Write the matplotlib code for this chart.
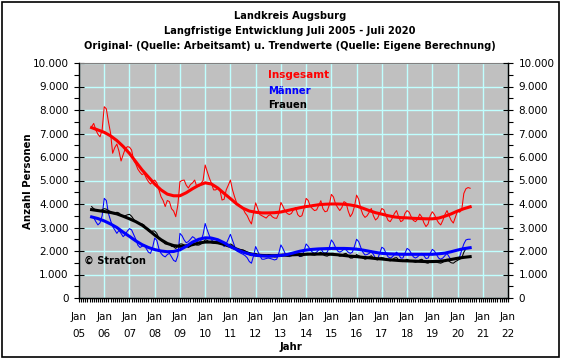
import matplotlib
matplotlib.use("Agg")
import matplotlib.pyplot as plt
import matplotlib.patches as mpatches
import numpy as np
import pandas as pd
from matplotlib.ticker import FixedLocator, MultipleLocator, FuncFormatter

plt.rcParams['font.family'] = ['DejaVu Sans']

# ---------------- data ----------------
# monthly original values, Jul 2005 .. Jul 2020
insg_orig = [
    7290, 7430, 7150, 6970, 6860, 7150,
    8140, 8050, 7500, 7020, 6160, 6400, 6550, 6250, 5830, 6100, 6350, 6440,
    6420, 6300, 5850, 5700, 5480, 5350, 5250, 5300, 5100, 4950, 4850, 4950,
    5020, 4900, 4600, 4310, 4150, 3890, 4150, 4100, 3800, 3700, 3460, 3950,
    4950, 5000, 5020, 4800, 4680, 4830, 4900, 5020, 4740, 4750, 4880, 5000,
    5660, 5370, 5100, 4880, 4600, 4600, 4680, 4600, 4170, 4200, 4600, 4800,
    5020, 4600, 4300, 4040, 3950, 3900, 3800, 3620, 3500, 3300, 3150, 3620,
    4050, 3800, 3550, 3500, 3450, 3400, 3500, 3550, 3450, 3400, 3390, 3600,
    4070, 3900, 3700, 3600, 3550, 3600, 3750, 3850, 3550, 3460, 3500, 3800,
    4240, 4150, 3900, 3800, 3720, 3750, 3950, 4140, 3800, 3670, 3700, 3950,
    4410, 4300, 4000, 3850, 3720, 3850, 4100, 4050, 3700, 3460, 3600, 3900,
    4380, 4200, 3800, 3550, 3430, 3500, 3650, 3810, 3500, 3320, 3400, 3600,
    3810, 3750, 3500, 3300, 3250, 3400, 3600, 3720, 3450, 3250, 3300, 3600,
    3720, 3650, 3450, 3300, 3250, 3350, 3570, 3450, 3200, 3040, 3150, 3500,
    3670, 3550, 3350, 3200, 3110, 3300, 3550, 3720, 3500, 3300, 3190, 3450,
    3700, 3650, 3750, 4450, 4650, 4700, 4670,
]
maenner_orig = [
    3460, 3420, 3250, 3110, 3200, 3500,
    4240, 4150, 3600, 3300, 3040, 2900, 2750, 2880, 2750, 2610, 2700, 2850,
    2950, 2900, 2700, 2500, 2250, 2150, 2200, 2250, 2100, 1950, 1900, 2150,
    2550, 2450, 2100, 1900, 1800, 1750, 1850, 1900, 1750, 1600, 1550, 1800,
    2750, 2650, 2470, 2350, 2400, 2500, 2610, 2550, 2420, 2350, 2450, 2700,
    3170, 2890, 2650, 2470, 2400, 2380, 2450, 2400, 2330, 2190, 2300, 2500,
    2710, 2450, 2200, 2000, 1950, 1900, 1860, 1800, 1710, 1550, 1480, 1800,
    2190, 2000, 1800, 1650, 1650, 1680, 1700, 1680, 1650, 1620, 1650, 1900,
    2260, 2100, 1900, 1800, 1760, 1800, 1900, 1950, 1850, 1760, 1800, 2000,
    2300, 2200, 2050, 1950, 1900, 1950, 2050, 2100, 1950, 1900, 1950, 2150,
    2470, 2350, 2150, 2000, 1950, 2000, 2080, 2050, 1950, 1900, 1950, 2200,
    2500, 2400, 2150, 1950, 1830, 1850, 1900, 2000, 1850, 1700, 1650, 1900,
    2160, 2100, 1900, 1750, 1700, 1750, 1850, 1950, 1850, 1700, 1700, 1900,
    2110, 2050, 1900, 1750, 1700, 1750, 1850, 1900, 1800, 1680, 1700, 1900,
    2070, 2000, 1850, 1700, 1650, 1700, 1800, 1900, 1750, 1620, 1650, 1690,
    1700, 1750, 2040, 2300, 2470, 2500, 2500,
]
frauen_orig = [
    3890, 3800, 3750, 3700, 3680, 3760,
    3800, 3780, 3720, 3680, 3600, 3580, 3650, 3620, 3520, 3460, 3500, 3540,
    3560, 3480, 3350, 3250, 3200, 3150, 3150, 3100, 2950, 2850, 2800, 2850,
    2850, 2750, 2550, 2450, 2380, 2300, 2300, 2300, 2200, 2180, 2110, 2200,
    2300, 2300, 2250, 2200, 2150, 2200, 2300, 2320, 2250, 2250, 2300, 2350,
    2480, 2450, 2380, 2350, 2330, 2320, 2400, 2350, 2300, 2250, 2230, 2250,
    2300, 2250, 2150, 2050, 2050, 2050, 2050, 2000, 1950, 1850, 1800, 1850,
    1900, 1850, 1800, 1780, 1770, 1780, 1850, 1830, 1780, 1750, 1750, 1800,
    1850, 1850, 1800, 1780, 1800, 1800, 1880, 1900, 1820, 1780, 1780, 1820,
    1900, 1900, 1850, 1830, 1820, 1850, 1900, 1950, 1850, 1800, 1780, 1830,
    1900, 1900, 1850, 1820, 1780, 1800, 1880, 1900, 1800, 1700, 1700, 1750,
    1850, 1800, 1750, 1700, 1650, 1680, 1750, 1800, 1700, 1640, 1620, 1700,
    1720, 1700, 1650, 1600, 1580, 1620, 1700, 1720, 1620, 1560, 1550, 1600,
    1650, 1600, 1570, 1550, 1520, 1550, 1620, 1650, 1580, 1500, 1480, 1550,
    1600, 1580, 1520, 1500, 1480, 1520, 1600, 1650, 1560, 1500, 1480, 1550,
    1600, 1650, 1700, 1950, 2100, 2150, 2150,
]

# quarterly trend values, Jul 2005 .. Jul 2020
insg_trend = [
    7250, 7150,
    7050, 6900, 6700, 6450,
    6150, 5800, 5450, 5150,
    4850, 4600, 4420, 4350,
    4350, 4480, 4650, 4800,
    4900, 4850, 4680, 4450,
    4230, 4000, 3820, 3700,
    3650, 3620, 3620, 3630,
    3660, 3720, 3780, 3840,
    3890, 3930, 3970, 3990,
    4000, 4000, 3990, 3960,
    3910, 3820, 3720, 3630,
    3570, 3500, 3450, 3420,
    3410, 3390, 3380, 3370,
    3370, 3400, 3480, 3580,
    3700, 3800, 3880,
]
maenner_trend = [
    3450, 3380,
    3280, 3150, 3000, 2800,
    2620, 2430, 2270, 2150,
    2060, 2000, 1970, 1980,
    2050, 2200, 2380, 2500,
    2560, 2550, 2480, 2350,
    2190, 2060, 1950, 1870,
    1820, 1790, 1780, 1790,
    1810, 1850, 1920, 1990,
    2040, 2070, 2090, 2100,
    2110, 2110, 2110, 2100,
    2080, 2040, 1990, 1940,
    1900, 1880, 1870, 1860,
    1860, 1860, 1860, 1860,
    1860, 1880, 1910, 1970,
    2040, 2100, 2140,
]
frauen_trend = [
    3760, 3720,
    3680, 3640, 3580, 3480,
    3370, 3250, 3100, 2900,
    2680, 2480, 2320, 2230,
    2200, 2220, 2270, 2340,
    2380, 2380, 2350, 2280,
    2190, 2080, 1980, 1890,
    1830, 1810, 1800, 1800,
    1820, 1830, 1840, 1850,
    1860, 1870, 1870, 1870,
    1860, 1840, 1810, 1780,
    1760, 1730, 1710, 1680,
    1660, 1630, 1610, 1590,
    1580, 1570, 1560, 1550,
    1550, 1560, 1590, 1640,
    1690, 1730, 1760,
]

years = list(range(2005, 2023))
tick_labels = ["Jan\n%02d" % (y % 100) for y in years]

titles = ["Landkreis Augsburg",
          "Langfristige Entwicklung Juli 2005 - Juli 2020",
          "Original- (Quelle: Arbeitsamt) u. Trendwerte (Quelle: Eigene Berechnung)"]

# ---------------- dates ----------------
def dec_year(idx):
    return idx.year + (idx.month - 1) / 12.0

x_month = dec_year(pd.date_range("2005-07-01", "2020-07-01", freq="MS"))
x_quart = dec_year(pd.date_range("2005-07-01", "2020-07-01", freq="QS-JAN"))

# ---------------- figure ----------------
W, H = 563, 359
fig = plt.figure(figsize=(W / 100, H / 100), dpi=100, facecolor="white")
fig.patches.append(mpatches.Rectangle((1.5 / W, 2.0 / H), 557.5 / W, 355.5 / H,
                                      transform=fig.transFigure, fill=False,
                                      edgecolor="black", linewidth=1.2))

L, R, T, B = 79, 508, 63, 298
ax = fig.add_axes([L / W, 1 - B / H, (R - L) / W, (B - T) / H])
ax.set_facecolor("#c0c0c0")
ax.set_xlim(2005, 2022)
ax.set_ylim(0, 10000)

grid_c = "#c0ffff"
ax.xaxis.set_major_locator(FixedLocator(years))
ax.xaxis.set_minor_locator(MultipleLocator(1 / 12))
ax.yaxis.set_major_locator(MultipleLocator(1000))
ax.yaxis.set_minor_locator(MultipleLocator(500))
ax.grid(True, which="major", color=grid_c, linewidth=1.0, zorder=0)
ax.set_axisbelow(True)

fmt = FuncFormatter(lambda v, p: f"{int(v):,}".replace(",", "."))
ax.yaxis.set_major_formatter(fmt)
ax.set_xticklabels(tick_labels, fontsize=7.5, linespacing=1.85)
ax.tick_params(axis="x", which="both", direction="out", length=3, width=0.8,
               pad=7)
ax.tick_params(axis="y", which="major", direction="inout", length=7, width=0.8,
               labelsize=7.5, pad=4)
ax.tick_params(axis="y", which="minor", direction="out", length=3.5, width=0.8)

for s in ["left", "bottom", "right"]:
    ax.spines[s].set_color("black")
    ax.spines[s].set_linewidth(1.0)
ax.spines["top"].set_color("#808080")

ax2 = ax.twinx()
ax2.set_ylim(0, 10000)
ax2.yaxis.set_major_locator(MultipleLocator(1000))
ax2.yaxis.set_minor_locator(MultipleLocator(500))
ax2.yaxis.set_major_formatter(fmt)
ax2.tick_params(axis="y", which="major", direction="inout", length=7, width=0.8,
                labelsize=7.5, pad=4)
ax2.tick_params(axis="y", which="minor", direction="out", length=3.5, width=0.8)
ax2.spines["right"].set_color("black")
ax2.spines["top"].set_visible(False)

# series
ax.plot(x_month, insg_orig, color="#ff0000", lw=0.75, zorder=3)
ax.plot(x_month, maenner_orig, color="#0000ff", lw=0.75, zorder=3)
ax.plot(x_month, frauen_orig, color="black", lw=0.75, zorder=3)
ax.plot(x_quart, insg_trend, color="#ff0000", lw=2.2, zorder=4)
ax.plot(x_quart, frauen_trend, color="black", lw=2.2, zorder=4)
ax.plot(x_quart, maenner_trend, color="#0000ff", lw=2.2, zorder=4)

# legend-like labels
ax.text((268 - L) / (R - L), 1 - (75 - T) / (B - T), "Insgesamt", color="#ff0000",
        fontsize=7.5, fontweight="bold", transform=ax.transAxes, va="center", ha="left")
ax.text((268 - L) / (R - L), 1 - (91 - T) / (B - T), "Männer", color="#0000ff",
        fontsize=7.2, fontweight="bold", transform=ax.transAxes, va="center", ha="left")
ax.text((268 - L) / (R - L), 1 - (105 - T) / (B - T), "Frauen", color="black",
        fontsize=7.2, fontweight="bold", transform=ax.transAxes, va="center", ha="left")
ax.text((84 - L) / (R - L), 1 - (261 - T) / (B - T), "© StratCon", color="black",
        fontsize=7.0, fontweight="bold", transform=ax.transAxes, va="center", ha="left")

# titles
for i, t in enumerate(titles):
    fig.text(290 / W, 1 - (16 + 15 * i) / H, t, ha="center", va="center",
             fontsize=7.1, fontweight="bold")

fig.text(28 / W, 1 - 181 / H, "Anzahl Personen", rotation=90, ha="center",
         va="center", fontsize=7.3, fontweight="bold")
fig.text(291 / W, 1 - 347 / H, "Jahr", ha="center", va="center",
         fontsize=7.3, fontweight="bold")

fig.savefig("out.png", dpi=100, facecolor="white")
